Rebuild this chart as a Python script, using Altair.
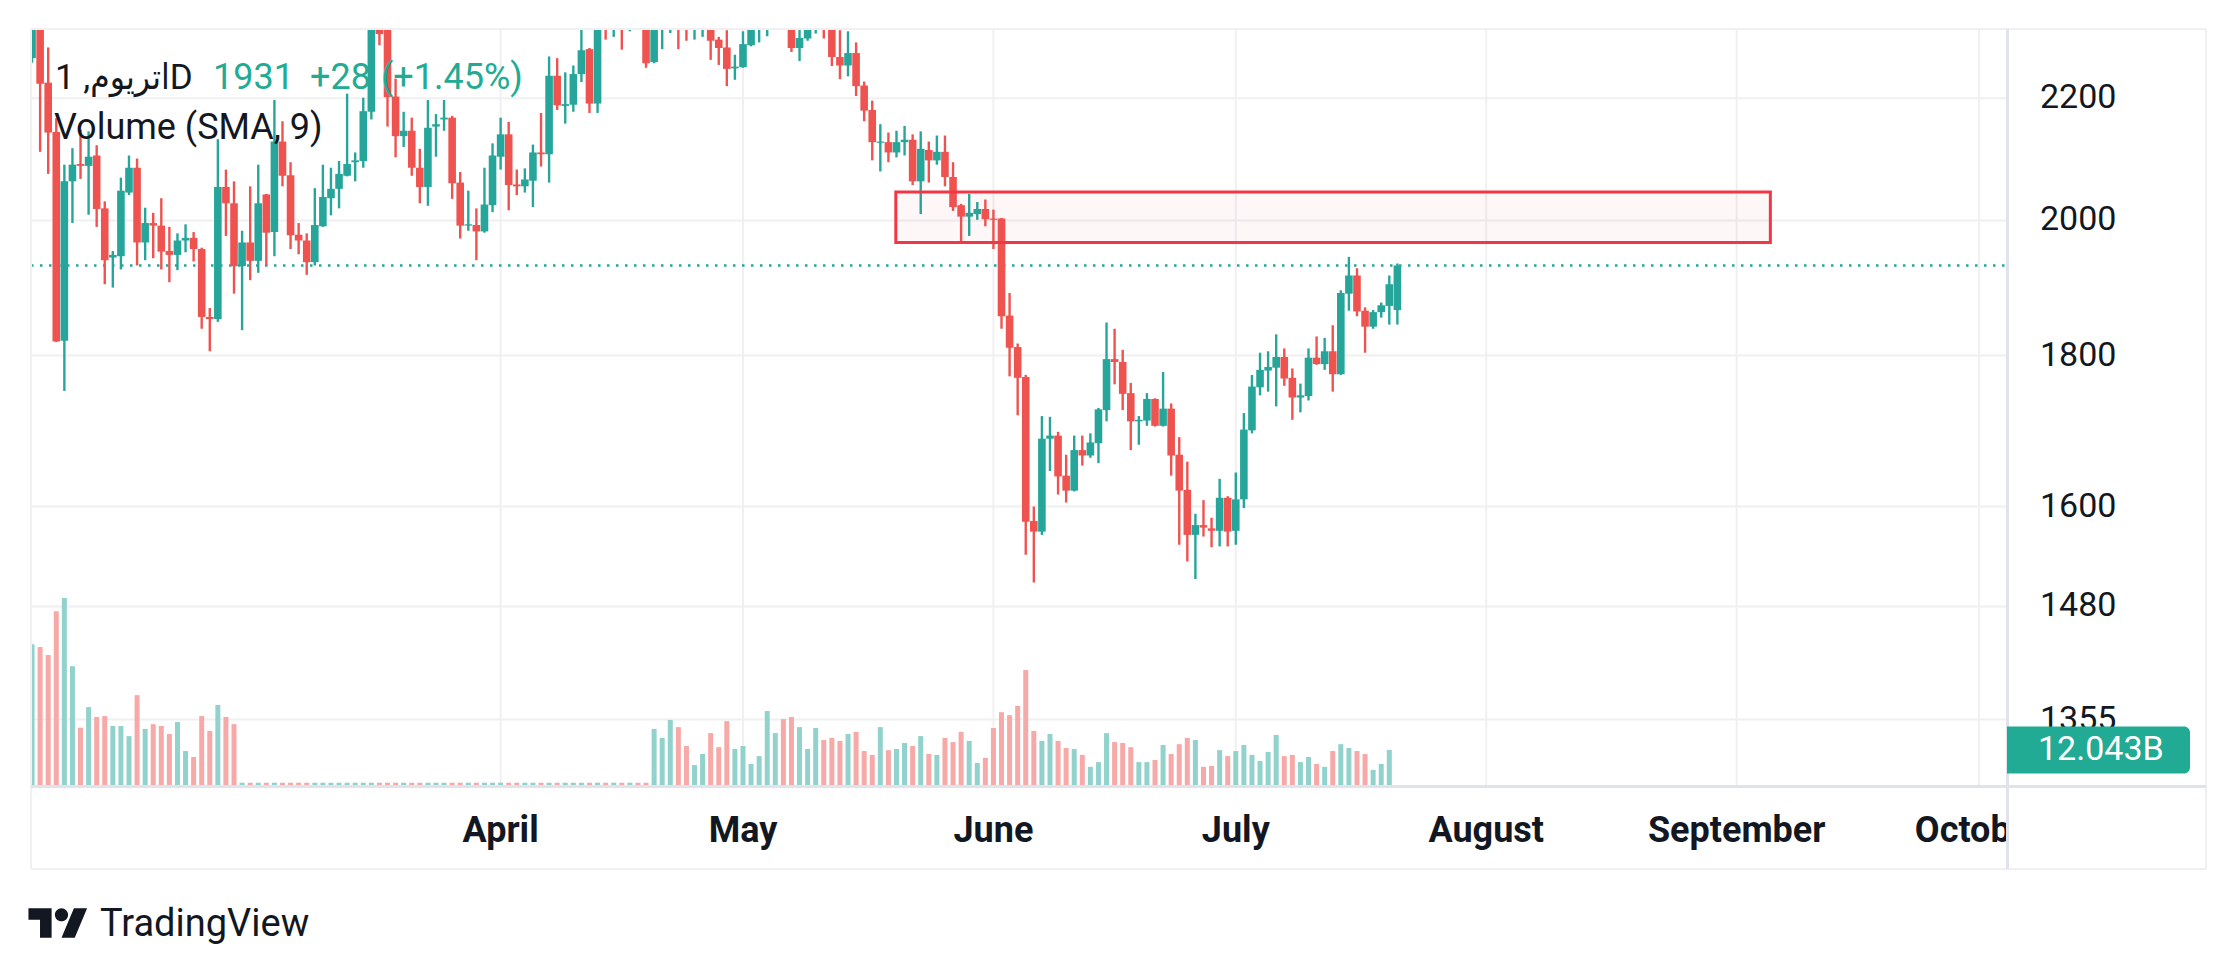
import altair as alt
import pandas as pd

# ---------------- data ----------------
dates = pd.date_range("2023-02-02", "2023-07-21", freq="D")

opens = [
    # Feb 2 - Feb 28
    2270, 2340, 2227, 2143, 1821, 2062, 2090, 2087, 2104, 2019, 1943, 1945, 2044, 2084,
    1966, 1996, 1992, 1953, 1947, 1969, 1973, 1956, 1855, 1852, 2053, 2027, 1930,
    # Mar
    1966, 1938, 2041, 1982, 2127, 2072, 1978, 1969, 1936, 1991, 2035, 2050, 2071, 2093,
    2095, 2177, 2335, 2330, 2203, 2136, 2145, 2084, 2053, 2152, 2164, 2167, 2060, 1992,
    1993, 1983, 2024,
    # Apr
    2102, 2139, 2057, 2054, 2063, 2109, 2106, 2239, 2187, 2189, 2242, 2286, 2191, 2370,
    2330, 2355, 2325, 2350, 2340, 2263, 2332, 2340, 2365, 2330, 2322, 2335, 2345, 2303,
    2289, 2252,
    # May
    2254, 2293, 2330, 2345, 2360, 2375, 2355, 2288, 2305, 2325, 2345, 2330, 2272, 2257,
    2279, 2222, 2180, 2125, 2126, 2109, 2126, 2130, 2062, 2113, 2096, 2110, 2069, 2024,
    2006, 2010, 2018,
    # Jun
    2003, 2003, 1857, 1812, 1770, 1582, 1569, 1687, 1691, 1639, 1620, 1672, 1665, 1681,
    1725, 1795, 1791, 1748, 1710, 1711, 1740, 1704, 1727, 1666, 1621, 1565, 1577, 1573,
    1570, 1611,
    # Jul
    1570, 1609, 1698, 1756, 1779, 1783, 1798, 1769, 1742, 1744, 1797, 1788, 1806, 1774,
    1889, 1916, 1864, 1841, 1862, 1871, 1865,
]
highs = [
    2345, 2350, 2289, 2166, 2089, 2116, 2147, 2144, 2121, 2030, 1953, 2068, 2104, 2099,
    2020, 2012, 2035, 1990, 1980, 1994, 1982, 1958, 1868, 2131, 2081, 2062, 1984,
    2054, 2089, 2042, 2197, 2161, 2093, 1996, 1980, 2051, 2089, 2084, 2095, 2208, 2109,
    2201, 2345, 2350, 2345, 2234, 2177, 2167, 2115, 2197, 2173, 2197, 2170, 2077, 2047,
    2019, 2084, 2124,
    2167, 2160, 2081, 2083, 2122, 2175, 2273, 2270, 2245, 2257, 2345, 2288, 2355, 2385,
    2365, 2370, 2360, 2365, 2350, 2345, 2360, 2375, 2375, 2345, 2345, 2355, 2355, 2308,
    2320, 2276,
    2318, 2340, 2355, 2370, 2385, 2385, 2365, 2322, 2340, 2350, 2355, 2340, 2320, 2318,
    2298, 2229, 2196, 2156, 2142, 2145, 2153, 2139, 2144, 2127, 2137, 2137, 2093, 2026,
    2042, 2029, 2033,
    2017, 2004, 1890, 1817, 1773, 1600, 1717, 1716, 1696, 1666, 1691, 1691, 1694, 1728,
    1847, 1838, 1808, 1762, 1717, 1748, 1741, 1777, 1734, 1689, 1657, 1591, 1608, 1586,
    1635, 1613,
    1643, 1721, 1773, 1804, 1806, 1830, 1810, 1782, 1761, 1810, 1827, 1825, 1843, 1894,
    1944, 1927, 1869, 1865, 1876, 1916, 1934,
]
lows = [
    2262, 2110, 2074, 1819, 1751, 1996, 2066, 2009, 1990, 1903, 1898, 1925, 2040, 1931,
    1939, 1942, 1925, 1906, 1924, 1951, 1937, 1838, 1806, 1848, 1976, 1889, 1836,
    1909, 1920, 1931, 1945, 2054, 1956, 1948, 1917, 1931, 1990, 2008, 2019, 2070, 2062,
    2084, 2164, 2293, 2152, 2101, 2118, 2071, 2027, 2023, 2102, 2145, 2034, 1972, 1984,
    1939, 1981, 2013,
    2081, 2016, 2040, 2044, 2021, 2086, 2060, 2180, 2157, 2177, 2228, 2175, 2175, 2303,
    2308, 2285, 2318, 2322, 2253, 2261, 2286, 2315, 2286, 2301, 2303, 2308, 2267, 2258,
    2221, 2232,
    2253, 2291, 2298, 2309, 2330, 2330, 2281, 2265, 2301, 2314, 2305, 2256, 2233, 2238,
    2204, 2161, 2096, 2078, 2093, 2101, 2104, 2056, 2010, 2060, 2089, 2054, 2015, 1966,
    1976, 2001, 1991,
    1956, 1838, 1771, 1718, 1541, 1508, 1565, 1645, 1615, 1605, 1619, 1652, 1662, 1655,
    1710, 1760, 1725, 1672, 1679, 1704, 1703, 1703, 1639, 1553, 1533, 1512, 1563, 1550,
    1551, 1551,
    1553, 1598, 1694, 1745, 1750, 1730, 1758, 1712, 1722, 1738, 1787, 1780, 1750, 1773,
    1864, 1856, 1804, 1838, 1854, 1844, 1844,
]
closes = [
    2335, 2225, 2142, 1820, 2062, 2089, 2087, 2102, 2018, 1939, 1947, 2047, 2084, 1966,
    1996, 1992, 1952, 1947, 1969, 1973, 1956, 1855, 1852, 2053, 2027, 1930, 1966,
    1938, 2027, 1981, 2127, 2071, 1977, 1969, 1936, 1993, 2037, 2050, 2074, 2090, 2096,
    2178, 2330, 2313, 2202, 2136, 2145, 2084, 2053, 2150, 2156, 2167, 2059, 1992, 1994,
    1983, 2025, 2104,
    2139, 2056, 2054, 2065, 2109, 2106, 2239, 2188, 2190, 2242, 2284, 2191, 2340, 2330,
    2350, 2325, 2345, 2340, 2261, 2330, 2345, 2360, 2330, 2322, 2335, 2345, 2301, 2288,
    2251, 2255,
    2295, 2330, 2345, 2360, 2375, 2355, 2288, 2306, 2325, 2340, 2330, 2272, 2257, 2279,
    2221, 2179, 2126, 2127, 2109, 2126, 2130, 2062, 2115, 2096, 2110, 2069, 2021, 2006,
    2012, 2018, 2002,
    2001, 1856, 1811, 1769, 1581, 1569, 1687, 1691, 1638, 1620, 1672, 1665, 1682, 1726,
    1795, 1791, 1747, 1710, 1712, 1740, 1704, 1727, 1665, 1620, 1565, 1577, 1574, 1570,
    1611, 1569,
    1609, 1699, 1757, 1780, 1784, 1798, 1768, 1742, 1745, 1797, 1788, 1806, 1774, 1890,
    1916, 1863, 1841, 1862, 1872, 1903, 1931,
]
# volume in billions (last day has no bar)
volumes = [
    47.4, 46.5, 43.8, 58.5, 62.9, 40.1, 19.5, 26.4, 23.1, 23.4, 20.1, 20.1, 16.7, 30.4,
    19.1, 20.7, 20.1, 17.4, 21.4, 11.7, 9.7, 23.4, 18.4, 27.1, 23.1, 20.7,
    1.1, 1.1, 1.1, 1.1, 1.1, 1.1, 1.1, 1.1, 1.1, 1.1, 1.1, 1.1, 1.1, 1.1, 1.1, 1.1, 1.1,
    1.1, 1.1, 1.1, 1.1, 1.1, 1.1, 1.1, 1.1, 1.1, 1.1, 1.1, 1.1, 1.1, 1.1, 1.1, 1.1, 1.1,
    1.1, 1.1, 1.1, 1.1, 1.1, 1.1, 1.1, 1.1, 1.1, 1.1, 1.1, 1.1, 1.1, 1.1, 1.1, 1.1, 1.1,
    19.1, 16.1, 22.1, 19.7, 13.4, 7.0, 10.7, 17.7, 13.0, 21.7, 12.4,
    13.4, 7.4, 10.0, 25.1, 17.7, 22.4, 23.1, 19.7, 12.4, 19.4, 15.4, 16.1, 15.1, 17.4,
    18.1, 11.7, 10.4, 19.7, 12.0, 12.4, 14.4, 13.4, 16.7, 10.7, 10.4, 16.1, 14.7, 18.1,
    15.1, 7.7, 9.4,
    19.4, 24.7, 23.7, 26.8, 38.8, 18.4, 15.1, 17.4, 15.1, 12.7, 12.4, 10.4, 6.4, 8.0,
    17.7, 14.7, 14.4, 13.0, 8.0, 8.0, 8.7, 13.7, 10.7, 14.0, 16.1, 15.4, 6.4, 6.7, 12.0,
    10.0,
    11.7, 13.7, 10.4, 8.4, 11.4, 17.1, 10.0, 10.4, 8.0, 9.7, 7.4, 6.4, 11.7, 14.0, 12.7,
    11.7, 10.7, 5.4, 7.4, 12.043, None,
]
assert len(dates) == len(opens) == len(highs) == len(lows) == len(closes) == len(volumes) == 170

price_ticks = [2200, 2000, 1800, 1600, 1480, 1355]
price_tick_labels = ["2200", "2000", "1800", "1600", "1480", "1355"]
month_names = ["April", "May", "June", "July", "August", "September", "October"]
month_starts = ["2023-04-01", "2023-05-01", "2023-06-01", "2023-07-01",
                "2023-08-01", "2023-09-01", "2023-10-01"]
zone_start, zone_end = "2023-05-19 22:00", "2023-09-05 04:00"
zone_top, zone_bottom = 2045, 1966
last_price = 1931
last_volume = 12.043
last_volume_label = "12.043B"
title_symbol = "اتریوم, 1D"
title_price = "1931"
title_change = "+28"
title_pct = "(+1.45%)"
title_volume = "Volume (SMA, 9)"
brand = "TradingView"

# ---------------- helpers ----------------
base = pd.Timestamp("2023-02-01")
def dnum(s):
    return (pd.Timestamp(s) - base) / pd.Timedelta(days=1)

df = pd.DataFrame({
    "day": [dnum(d) for d in dates],
    "open": opens, "high": highs, "low": lows, "close": closes, "vol": volumes,
})
df["dir"] = ["up" if c >= o else "down" for o, c in zip(opens, closes)]

W, H = 1976, 757
XDOM = [1.49, 244.84]
PDOM = [1286.6, 2322.2]
VMAX = 253.3

TEAL = "#26a69a"
RED = "#ef5350"
GRID = "#f0f0f2"
SEP = "#e0e3eb"
TXT = "#131722"
FONT = "Roboto"

X = alt.Scale(domain=XDOM, nice=False, zero=False)
YP = alt.Scale(type="log", domain=PDOM, nice=False, zero=False)
YV = alt.Scale(domain=[0, VMAX], nice=False, zero=False)

xq = alt.X("day:Q", scale=X, axis=None)

ticks_df = pd.DataFrame({"price": price_ticks, "label": price_tick_labels})
months_df = pd.DataFrame({"day": [dnum(m) for m in month_starts], "name": month_names})
zone_df = pd.DataFrame({"x1": [dnum(zone_start)], "x2": [dnum(zone_end)],
                        "top": [zone_top], "bottom": [zone_bottom]})
last_df = pd.DataFrame({"price": [last_price]})
pad = 23.5 * VMAX / H
vlab_df = pd.DataFrame({"v": [last_volume], "lo": [last_volume - pad],
                        "hi": [last_volume + pad], "t": [last_volume_label]})

def one(t):
    return pd.DataFrame({"t": [t]})

layers = []

# grid
layers.append(alt.Chart(ticks_df).mark_rule(color=GRID, strokeWidth=2).encode(
    y=alt.Y("price:Q", scale=YP, axis=None), x=alt.value(0), x2=alt.value(W)))
layers.append(alt.Chart(months_df).mark_rule(color=GRID, strokeWidth=2).encode(
    x=xq, y=alt.value(0), y2=alt.value(H)))

# volume
layers.append(alt.Chart(df).mark_bar(size=5, clip=True).encode(
    x=xq,
    y=alt.Y("vol:Q", scale=YV, axis=None),
    color=alt.Color("dir:N", scale=alt.Scale(domain=["up", "down"],
                                            range=["#92d2cc", "#f7a9a7"]), legend=None)))

# last price dotted line
layers.append(alt.Chart(last_df).mark_rule(color=TEAL, strokeWidth=2.5,
                                           strokeDash=[2.5, 6.5]).encode(
    y=alt.Y("price:Q", scale=YP, axis=None), x=alt.value(0), x2=alt.value(W)))

cscale = alt.Scale(domain=["up", "down"], range=[TEAL, RED])
# wicks
layers.append(alt.Chart(df).mark_rule(strokeWidth=2.4, clip=True).encode(
    x=xq, y=alt.Y("low:Q", scale=YP, axis=None), y2="high:Q",
    color=alt.Color("dir:N", scale=cscale, legend=None)))
# bodies
layers.append(alt.Chart(df).mark_bar(size=7.6, clip=True).encode(
    x=xq, y=alt.Y("open:Q", scale=YP, axis=None), y2="close:Q",
    color=alt.Color("dir:N", scale=cscale, legend=None)))

# zone rectangle
layers.append(alt.Chart(zone_df).mark_rect(fill="#f23645", fillOpacity=0.04,
                                           stroke="#f23645", strokeWidth=3, clip=True).encode(
    x=alt.X("x1:Q", scale=X, axis=None), x2="x2:Q",
    y=alt.Y("top:Q", scale=YP, axis=None), y2="bottom:Q"))

# month labels
layers.append(alt.Chart(months_df).mark_text(font=FONT, fontSize=36, fontWeight="bold",
                                             color=TXT, align="center",
                                             baseline="alphabetic").encode(
    x=xq, y=alt.value(813), text="name:N"))

# white price-scale column (clips the October label)
layers.append(alt.Chart(one("")).mark_rect(color="white").encode(
    x=alt.value(W + 1), x2=alt.value(W + 199), y=alt.value(H + 2), y2=alt.value(H + 82)))

# frame lines
frame = [
    (0, W + 199, 0, 0, GRID, 2),
    (0, W + 199, H + 83, H + 83, GRID, 2),
    (0, 0, 0, H + 83, GRID, 2),
    (W + 199, W + 199, 0, H + 83, GRID, 2),
    (0, W + 199, H + 0.5, H + 0.5, SEP, 3),
    (W + 0.5, W + 0.5, 0, H + 83, SEP, 3),
]
for (a, b, c, d, col, sw) in frame:
    layers.append(alt.Chart(one("")).mark_rule(color=col, strokeWidth=sw).encode(
        x=alt.value(a), x2=alt.value(b), y=alt.value(c), y2=alt.value(d)))

# price labels
layers.append(alt.Chart(ticks_df).mark_text(font=FONT, fontSize=34, color=TXT,
                                            align="left", baseline="middle").encode(
    y=alt.Y("price:Q", scale=YP, axis=None), x=alt.value(W + 33), text="label:N"))

# volume last-value label
layers.append(alt.Chart(vlab_df).mark_rect(color="#22ab94", cornerRadiusTopRight=6,
                                           cornerRadiusBottomRight=6).encode(
    x=alt.value(W), x2=alt.value(W + 183),
    y=alt.Y("lo:Q", scale=YV, axis=None), y2="hi:Q"))
layers.append(alt.Chart(vlab_df).mark_text(font=FONT, fontSize=34, color="white",
                                           align="left", baseline="middle").encode(
    x=alt.value(W + 31), y=alt.Y("v:Q", scale=YV, axis=None), text="t:N"))

# legend / header texts
def htext(t, x, y, color, size=36, font=FONT):
    return alt.Chart(one(t)).mark_text(font=font, fontSize=size, color=color,
                                       align="left", baseline="alphabetic").encode(
        x=alt.value(x), y=alt.value(y), text="t:N")

layers.append(htext(title_symbol, 24, 59.5, TXT, 35, "Roboto, DejaVu Sans Condensed"))
layers.append(htext(title_price, 182, 59.5, "#22ab94"))
layers.append(htext(title_change, 279, 59.5, "#22ab94"))
layers.append(htext(title_pct, 350, 59.5, "#22ab94"))
layers.append(htext(title_volume, 23, 110, TXT))

# TradingView logo
logo_path = ("M-0.222,0.5 L-0.611,0.5 L-0.611,-0.111 L-1,-0.111 L-1,-0.5 L-0.222,-0.5 Z "
             "M-0.111,-0.278 A0.222,0.222 0 1 0 0.333,-0.278 A0.222,0.222 0 1 0 -0.111,-0.278 Z "
             "M0.556,0.5 L0.111,0.5 L0.528,-0.5 L0.972,-0.5 Z")
layers.append(alt.Chart(one("")).mark_point(shape=logo_path, filled=True, size=3540,
                                            color=TXT, opacity=1, strokeWidth=0).encode(
    x=alt.value(27.2), y=alt.value(894)))
layers.append(alt.Chart(one(brand)).mark_text(font=FONT, fontSize=38, fontWeight="normal",
                                              color=TXT, align="left",
                                              baseline="alphabetic").encode(
    x=alt.value(69), y=alt.value(907), text="t:N"))

chart = alt.layer(*layers).resolve_scale(y="independent", color="independent").properties(
    width=W, height=H,
    autosize=alt.AutoSizeParams(type="none"),
    padding={"left": 23, "top": 21, "right": 201, "bottom": 160},
    background="white",
).configure_view(stroke=None)

chart.save("out.html", embed_options={"renderer": "svg", "actions": False})
